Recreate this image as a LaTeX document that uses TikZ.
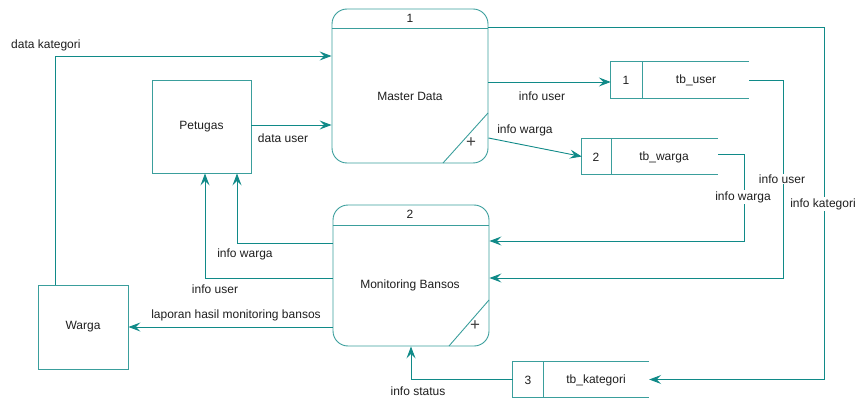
\documentclass[tikz,border=0pt]{standalone}
\usepackage{fontspec}
\setmainfont{Liberation Sans}
\usetikzlibrary{arrows.meta}
\definecolor{flowc}{HTML}{108A88}
\definecolor{boxc}{HTML}{3A9E9C}
\definecolor{txtc}{HTML}{1E1E1E}
\begin{document}
\begin{tikzpicture}[x=1pt,y=-1pt,
  every node/.style={font=\fontsize{12}{14}\selectfont, text=txtc},
  proc/.style={draw=boxc, line width=0.9pt, rounded corners=15pt, minimum width=156pt, inner sep=0pt},
  ent/.style={draw=boxc, line width=0.9pt, inner sep=0pt},
  storebox/.style={inner sep=0pt, minimum height=36pt},
  edge1/.style={draw=boxc, line width=0.9pt},
  flow/.style={draw=flowc, line width=0.9pt, -{Stealth[length=12pt,width=9pt,inset=4.5pt]}, fill=none},
  plus/.style={font=\fontsize{17}{17}\selectfont, inner sep=0pt, text=txtc!85},
  lbl/.style={inner sep=1pt},
  wlbl/.style={inner sep=1pt, fill=white}]
\useasboundingbox (0,0) rectangle (861,398);

% processes
\node[proc, minimum height=154pt] (md) at (410,86) {};
\draw[edge1] (md.west |- 0,28) -- (md.east |- 0,28);
\draw[edge1] (443,163) -- (488,113);
\node (mdn) at (410,18) {1};
\node (mdt) at (410,96) {Master Data};
\node[plus] (mdp) at (471,143) {+};

\node[proc, minimum height=141pt] (mb) at (411,275.5) {};
\draw[edge1] (mb.west |- 0,225) -- (mb.east |- 0,225);
\draw[edge1] (449,346) -- (489,300);
\node (mbn) at (410,214) {2};
\node (mbt) at (410,285) {Monitoring Bansos};
\node[plus] (mbp) at (475,326) {+};

% entities
\node[ent, minimum width=99pt, minimum height=93pt] (pet) at (201.5,126.5) {Petugas};
\node[ent, minimum width=90pt, minimum height=84pt] (warga) at (83,327) {Warga};

% data stores
\node[storebox, minimum width=138pt] (tbu) at (680,80) {};
\draw[edge1] (tbu.north east) -- (tbu.north west) -- (tbu.south west) -- (tbu.south east);
\draw[edge1] (642,62) -- (642,98);
\node (tbun) at (626,80) {1};
\node (tbut) at (696,80) {tb\_user};

\node[storebox, minimum width=136pt] (tbw) at (650,156.5) {};
\draw[edge1] (tbw.north east) -- (tbw.north west) -- (tbw.south west) -- (tbw.south east);
\draw[edge1] (611,138.5) -- (611,174.5);
\node (tbwn) at (596,157) {2};
\node (tbwt) at (664,157) {tb\_warga};

\node[storebox, minimum width=136pt, minimum height=35pt] (tbk) at (581,379.5) {};
\draw[edge1] (tbk.north east) -- (tbk.north west) -- (tbk.south west) -- (tbk.south east);
\draw[edge1] (543,362) -- (543,397);
\node (tbkn) at (528,380) {3};
\node (tbkt) at (596,380) {tb\_kategori};

% coordinates for bends
\coordinate (k1) at (824,27);
\coordinate (u1) at (783,80);
\coordinate (w1) at (744,154);
\coordinate (p1) at (237,243);
\coordinate (p2) at (205,278);

% flows
\draw[flow] ([xshift=18pt]warga.north west) |- (md.west |- 0,56);
\draw[flow] (pet.east |- 0,125) -- (md.west |- 0,125);
\draw[flow] (md.east |- 0,82) -- (tbu.west |- 0,82);
\draw[flow] (md.east |- 0,138) -- (tbw.west);
\draw[flow] (md.east |- k1) -- (k1) |- (tbk.east);
\draw[flow] (tbu.east) -- (u1) |- (mb.east |- 0,278);
\draw[flow] (tbw.east |- w1) -- (w1) |- (mb.east |- 0,241);
\draw[flow] (mb.west |- p1) -- (p1) -- (p1 |- pet.south);
\draw[flow] (mb.west |- p2) -- (p2) -- (p2 |- pet.south);
\draw[flow] (mb.west |- warga.east) -- (warga.east);
\draw[flow] (tbk.west) -| (mb.south);

% labels
\node[lbl, anchor=west] (l1) at (10,45) {data kategori};
\node[lbl] (l2) at (283,138) {data user};
\node[lbl] (l3) at (542,96) {info user};
\node[lbl] (l4) at (525,130) {info warga};
\node[wlbl] (l5) at (823,204) {info kategori};
\node[wlbl] (l6) at (782,179) {info user};
\node[wlbl] (l7) at (743,197) {info warga};
\node[lbl] (l8) at (245,254) {info warga};
\node[lbl] (l9) at (215,289) {info user};
\node[lbl] (l10) at (236,315) {laporan hasil monitoring bansos};
\node[lbl] (l11) at (418,391) {info status};
\end{tikzpicture}
\end{document}
